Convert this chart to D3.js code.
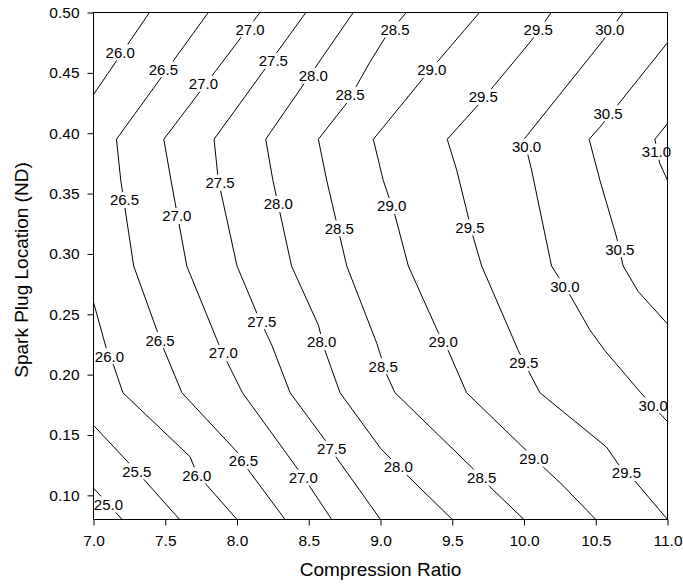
<!DOCTYPE html>
<html><head><meta charset="utf-8">
<script src="https://cdn.jsdelivr.net/npm/d3@7/dist/d3.min.js"></script>
<style>body{margin:0;background:#fff}svg{display:block}</style>
</head><body><svg id="c" width="683" height="584"></svg>
<script>
// ---- data (x = Compression Ratio, y = Spark Plug Location (ND)) ----
const xTicks = [7.0, 7.5, 8.0, 8.5, 9.0, 9.5, 10.0, 10.5, 11.0];
const yTicks = [0.10, 0.15, 0.20, 0.25, 0.30, 0.35, 0.40, 0.45, 0.50];
const xTitle = "Compression Ratio";
const yTitle = "Spark Plug Location (ND)";

const c250 = [[7.0,0.106],[7.20,0.08]];
const c255 = [[7.0,0.158],[7.30,0.120],[7.60,0.08]];
const c260a = [[7.0,0.432],[7.39,0.5]];
const c260b = [[7.0,0.260],[7.093,0.220],[7.139,0.208],[7.205,0.185],[7.673,0.132],[7.72,0.118],[7.778,0.110],[8.0,0.08]];
const c265 = [[7.80,0.5],[7.16,0.395],[7.19,0.361],[7.28,0.29],[7.441,0.237],[7.487,0.222],[7.616,0.185],[8.0,0.136],[8.079,0.121],[8.335,0.08]];
const c270 = [[8.16,0.5],[7.49,0.395],[7.54,0.361],[7.65,0.29],[7.870,0.226],[7.929,0.211],[8.038,0.185],[8.428,0.121],[8.509,0.107],[8.660,0.08]];
const c275 = [[8.48,0.5],[7.84,0.395],[7.87,0.361],[8.0,0.29],[8.138,0.251],[8.244,0.224],[8.370,0.185],[8.625,0.144],[8.695,0.131],[9.0,0.08]];
const c280 = [[8.81,0.5],[8.20,0.395],[8.25,0.361],[8.38,0.29],[8.567,0.241],[8.613,0.220],[8.718,0.185],[9.0,0.139],[9.182,0.117],[9.5,0.08]];
const c285 = [[9.18,0.5],[9.031,0.479],[8.927,0.459],[8.765,0.425],[8.567,0.395],[8.625,0.361],[8.765,0.29],[8.974,0.226],[9.043,0.200],[9.101,0.185],[9.646,0.122],[9.763,0.107],[10.0,0.08]];
const c290 = [[9.69,0.5],[9.287,0.444],[9.019,0.405],[8.950,0.395],[9.019,0.361],[9.101,0.332],[9.194,0.29],[9.402,0.235],[9.472,0.220],[9.600,0.185],[10.0,0.139],[10.134,0.1235],[10.273,0.108],[10.5,0.08]];
const c295 = [[10.19,0.5],[10.053,0.477],[9.670,0.422],[9.465,0.395],[9.531,0.3695],[9.646,0.314],[9.705,0.29],[9.960,0.220],[10.036,0.202],[10.111,0.185],[10.575,0.140],[10.656,0.126],[10.772,0.112],[11.0,0.08]];
const c300 = [[10.69,0.5],[10.552,0.477],[10.0,0.395],[10.053,0.3695],[10.192,0.29],[10.320,0.266],[10.459,0.237],[10.563,0.220],[10.814,0.185],[10.958,0.1664],[11.0,0.161]];
const c305 = [[11.0,0.475],[10.529,0.405],[10.454,0.395],[10.529,0.361],[10.645,0.314],[10.691,0.29],[10.795,0.269],[11.0,0.242]];
const c310 = [[11.0,0.408],[10.912,0.395],[10.946,0.375],[11.0,0.361]];

const contourLines = [c250, c255, c260a, c260b, c265, c270, c275, c280, c285, c290, c295, c300, c305, c310];

// contour labels: [level, x, y]
const contourLabels = [
  [26.0,7.186,0.467],[27.0,8.091,0.486],[28.5,9.101,0.486],[29.5,10.099,0.486],[30.0,10.598,0.486],
  [26.5,7.487,0.453],[27.5,8.253,0.460],[27.0,7.766,0.441],[28.0,8.532,0.4475],[29.0,9.357,0.4525],
  [28.5,8.788,0.4317],[29.5,9.716,0.430],[30.5,10.586,0.4166],[30.0,10.018,0.3889],[31.0,10.923,0.3847],
  [26.5,7.216,0.3447],[27.5,7.882,0.359],[27.0,7.581,0.3314],[28.0,8.288,0.3413],[29.0,9.078,0.3397],
  [28.5,8.713,0.3212],[29.5,9.623,0.322],[30.5,10.668,0.304],[30.0,10.285,0.2733],
  [27.5,8.173,0.2443],[28.0,8.590,0.2271],[29.0,9.437,0.2271],[26.5,7.464,0.2286],[27.0,7.905,0.218],
  [28.5,9.019,0.207],[29.5,9.999,0.2097],[26.0,7.111,0.2153],
  [27.5,8.660,0.1387],[26.5,8.045,0.1284],[29.0,10.069,0.1304],[28.0,9.124,0.1235],[25.5,7.302,0.120],
  [27.0,8.462,0.1147],[26.0,7.720,0.1166],[28.5,9.705,0.1147],[29.5,10.714,0.1185],[30.0,10.900,0.1746],
  [25.0,7.104,0.0925]
];

// ---- drawing ----
const FONT = "Arial, 'Liberation Sans', Helvetica, sans-serif";
const svg = d3.select("#c");
const L = 93.5, R = 667.5, T = 12.5, B = 519.5;
const x = d3.scaleLinear().domain([7, 11]).range([L, R]);
const y = d3.scaleLinear().domain([0.08, 0.5]).range([B, T]);

const line = d3.line().x(d => x(d[0])).y(d => y(d[1]));

svg.append("g")
  .selectAll("path").data(contourLines).join("path")
  .attr("d", line).attr("fill", "none").attr("stroke", "#000").attr("stroke-width", 1);

const lg = svg.append("g");
contourLabels.forEach(([v, lx, ly]) => {
  const g = lg.append("g");
  const t = g.append("text")
    .attr("x", x(lx)).attr("y", y(ly)).attr("dy", "0.36em")
    .attr("text-anchor", "middle")
    .style("font-family", FONT).style("font-size", "15px").attr("fill", "#000")
    .text(d3.format(".1f")(v));
  const bb = t.node().getBBox();
  g.insert("rect", "text")
    .attr("x", bb.x - 2).attr("y", y(ly) - 8).attr("width", bb.width + 4).attr("height", 16)
    .attr("fill", "#fff");
});

// frame
svg.append("rect").attr("x", L).attr("y", T).attr("width", R - L).attr("height", B - T)
  .attr("fill", "none").attr("stroke", "#000").attr("stroke-width", 1);

const xAxis = svg.append("g").attr("transform", `translate(0,${B})`)
  .call(d3.axisBottom(x).tickValues(xTicks).tickFormat(d3.format(".1f")).tickSizeInner(6).tickSizeOuter(0).tickPadding(9));
const yAxis = svg.append("g").attr("transform", `translate(${L},0)`)
  .call(d3.axisLeft(y).tickValues(yTicks).tickFormat(d3.format(".2f")).tickSizeInner(6).tickSizeOuter(0).tickPadding(8));
[xAxis, yAxis].forEach(a => {
  a.select(".domain").remove();
  a.selectAll("line").attr("stroke", "#000");
  a.selectAll("text").style("font-family", FONT).style("font-size", "15.5px").attr("fill", "#000");
});

svg.append("text").attr("x", (L + R) / 2).attr("y", 576).attr("text-anchor", "middle")
  .style("font-family", FONT).style("font-size", "19px").text(xTitle);
svg.append("text").attr("transform", `translate(28,${(T + B) / 2 + 4}) rotate(-90)`).attr("text-anchor", "middle")
  .style("font-family", FONT).style("font-size", "19px").text(yTitle);
</script></body></html>
